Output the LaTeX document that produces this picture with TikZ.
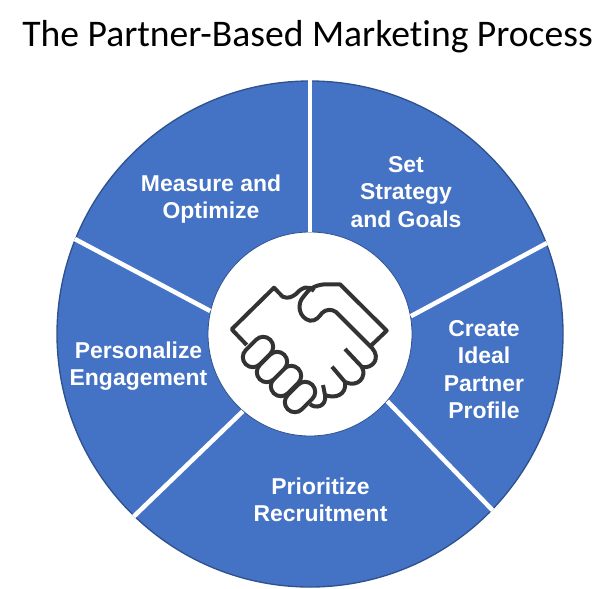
\documentclass[tikz,border=0pt]{standalone}
\usepackage{fontspec}
\setmainfont{Liberation Sans}
\newfontfamily\titlefont[Ligatures=NoCommon]{Carlito}
\usetikzlibrary{shapes.misc}

\definecolor{wheelblue}{HTML}{4472C4}
\definecolor{wheeledge}{HTML}{2F528F}
\definecolor{iconink}{HTML}{333333}

\begin{document}
\begin{tikzpicture}[
        x=0.75pt, y=-0.75pt,
        title/.style={font=\titlefont\fontsize{28.2}{32}\selectfont, inner sep=0pt},
        wheel/.style={draw=wheeledge, line width=1pt, circle, fill=wheelblue, minimum size=379.5pt, inner sep=0pt},
        hub/.style={draw=wheeledge, line width=0.6pt, circle, fill=white, minimum size=153pt, inner sep=0pt},
        spoke/.style={draw=white, line width=3.4pt},
        label/.style={font=\fontsize{17.2}{20.6}\selectfont\bfseries, text=white, align=center, inner sep=0pt},
        icon/.style={draw=iconink, line width=3pt, line join=round, line cap=butt},
        finger/.style={draw=iconink, line width=3pt, fill=white, rounded rectangle, minimum width=26pt, minimum height=15pt, inner sep=0pt},
    ]
    \useasboundingbox (0,0) rectangle (616,588);

    % Title
    \node[title] (heading) at (307.5,37) {The Partner-Based Marketing Process};

    % Wheel and hub
    \node[wheel] (rim) at (310,334) {};
    \node[hub] (centre) at (310,334) {};

    % Spokes between the segments
    \foreach \from/\to in {90/90, 10.4/21.8, -41.7/-44, 229.4/226, 167/158.8}
        \draw[spoke] (centre.\from) -- (rim.\to);

    % Segment labels
    \node[label] (measure) at (211,199) {Measure and\\Optimize};
    \node[label] (strategy) at (406,192) {Set\\Strategy\\and Goals};
    \node[label] (profile) at (484,369.5) {Create\\Ideal\\Partner\\Profile};
    \node[label] (engagement) at (138.5,366) {Personalize\\Engagement};
    \node[label] (recruitment) at (320.5,500) {Prioritize\\Recruitment};

    % Handshake icon
    \draw[icon] (246.7,345) -- (231.7,329.3) -- (274,287.7) -- (282.7,296.7)
        .. controls (288,299) and (292,297) .. (296,294)
        .. controls (302,287) and (309,285) .. (314,291);
    \draw[icon] (371.7,345) -- (386.7,330.7) -- (340,284.3) -- (325,284.3)
        .. controls (314,285) and (308,290) .. (304,296)
        .. controls (296,304) and (299,318) .. (310,320.7)
        .. controls (316,321) and (319,317) .. (322,313)
        .. controls (326,309) and (332,309) .. (336,312)
        -- (372,348)
        .. controls (381,358) and (373,369) .. (362,367)
        -- (345,349);
    \draw[icon] (362,367)
        .. controls (367,377) and (358,388) .. (345,382)
        -- (332,366.7);
    \draw[icon] (345,382)
        .. controls (347,395) and (335,399) .. (325,395)
        -- (323,385);
    \draw[icon] (325,395)
        .. controls (327,407) and (315,409) .. (310,404);
    \foreach \px/\py/\name in {300/397/four, 286/381/three, 272/367/two, 258/352/one}
        \node[finger, rotate=45] (finger\name) at (\px,\py) {};

    \end{tikzpicture}
\end{document}
